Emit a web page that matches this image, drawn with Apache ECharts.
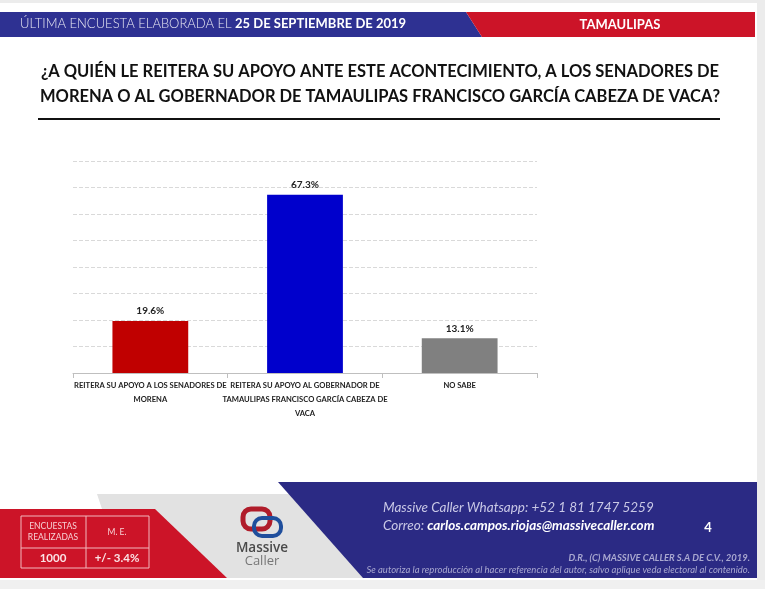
<!DOCTYPE html>
<html><head><meta charset="utf-8">
<script src="https://cdn.jsdelivr.net/npm/echarts@6/dist/echarts.min.js"></script>
<style>html,body{margin:0;padding:0;background:#fff}#c{width:765px;height:589px}</style>
</head><body><div id="c"></div>
<script>
const categories = [
  'REITERA SU APOYO A LOS SENADORES DE MORENA',
  'REITERA SU APOYO AL GOBERNADOR DE TAMAULIPAS FRANCISCO GARCÍA CABEZA DE VACA',
  'NO SABE'
];
const values = [19.6, 67.3, 13.1];
const barColors = ['#c00000', '#0000cc', '#808080'];
const headerLeft = 'ÚLTIMA ENCUESTA ELABORADA EL';
const headerDate = '25 DE SEPTIEMBRE DE 2019';
const headerState = 'TAMAULIPAS';
const titleLines = ['¿A QUIÉN LE REITERA SU APOYO ANTE ESTE ACONTECIMIENTO, A LOS SENADORES DE',
                    'MORENA O AL GOBERNADOR DE TAMAULIPAS FRANCISCO GARCÍA CABEZA DE VACA?'];
const surveys = '1000';
const margin = '+/- 3.4%';

function wrap(s, max) {
  const out = []; let line = '';
  s.split(' ').forEach(w => {
    if (line && (line + ' ' + w).length > max) { out.push(line); line = w; }
    else line = line ? line + ' ' + w : w;
  });
  if (line) out.push(line);
  return out.join('\n');
}

const F = 'Lato, "Open Sans", sans-serif';
const chart = echarts.init(document.getElementById('c'));
chart.setOption({
  animation: false,
  backgroundColor: '#ffffff',
  grid: {left: 73, right: 228, top: 161, bottom: 216, containLabel: false},
  xAxis: {
    type: 'category', data: categories,
    axisLine: {lineStyle: {color: '#bfbfbf'}},
    axisTick: {show: true, length: 5, lineStyle: {color: '#bfbfbf'}},
    axisLabel: {
      interval: 0, lineHeight: 14, formatter: v => wrap(v, 38),
      fontFamily: F, fontWeight: 'bold', fontSize: 7.6, color: '#222', margin: 6
    }
  },
  yAxis: {
    type: 'value', min: 0, max: 80, interval: 10,
    axisLabel: {show: false}, axisLine: {show: false}, axisTick: {show: false},
    splitLine: {lineStyle: {color: '#d9d9d9', type: 'dashed', width: 1}}
  },
  series: [{
    type: 'bar', barWidth: '49%',
    data: values.map((v, i) => ({value: v, itemStyle: {color: barColors[i]}})),
    label: {show: true, position: 'top', distance: 5, formatter: p => p.value.toFixed(1) + '%',
      fontFamily: F, fontWeight: 'bold', fontSize: 10, color: '#222'}
  }],
  graphic: [
    {type: 'rect', shape: {x: 757, y: 0, width: 8, height: 589}, style: {fill: '#ececec'}, z: -1},
    {type: 'rect', shape: {x: 0, y: 0, width: 765, height: 3}, style: {fill: '#ececec'}, z: -1},
    {type: 'rect', shape: {x: 0, y: 580, width: 765, height: 9}, style: {fill: '#f0f0f0'}, z: -1},
    {type: 'polygon', shape: {points: [[0,12],[466,12],[482,37],[0,37]]}, style: {fill: '#2e3192'}},
    {type: 'polygon', shape: {points: [[466,12],[755,12],[755,37],[482,37]]}, style: {fill: '#cc1428'}},
    {type: 'text', left: 20, top: 17, style: {
      text: '{a|' + headerLeft + '} {b|' + headerDate + '}',
      rich: {a: {fontFamily: F, fontSize: 13, fontWeight: 300, fill: '#e6e6f2'},
             b: {fontFamily: F, fontSize: 13, fontWeight: 'bold', fill: '#fff'}}}},
    {type: 'text', x: 620, y: 25, style: {text: headerState, fontFamily: F, fontSize: 13, fontWeight: 'bold',
      fill: '#fff', align: 'center', verticalAlign: 'middle'}},
    {type: 'text', x: 380, y: 72, style: {text: titleLines[0], fontFamily: F, fontSize: 16.5, fontWeight: 'bold',
      fill: '#111', align: 'center', verticalAlign: 'middle'}},
    {type: 'text', x: 380, y: 97, style: {text: titleLines[1], fontFamily: F, fontSize: 16.5, fontWeight: 'bold',
      fill: '#111', align: 'center', verticalAlign: 'middle'}},
    {type: 'line', shape: {x1: 38, y1: 119, x2: 720, y2: 119}, style: {stroke: '#111', lineWidth: 2}},
    {type: 'polygon', shape: {points: [[97,494],[370,494],[370,578],[125,578]]}, style: {fill: '#e2e2e2'}},
    {type: 'polygon', shape: {points: [[278,482],[757,482],[757,578],[363,578]]}, style: {fill: '#2b2a84'}},
    {type: 'polygon', shape: {points: [[0,509],[155,509],[227,578],[0,578]]}, style: {fill: '#cc1428'}},
    {type: 'rect', shape: {x: 21, y: 516, width: 128, height: 52}, style: {fill: 'none', stroke: '#f2b8bd', lineWidth: 1}},
    {type: 'line', shape: {x1: 86, y1: 516, x2: 86, y2: 568}, style: {stroke: '#f2b8bd', lineWidth: 1}},
    {type: 'line', shape: {x1: 21, y1: 548, x2: 149, y2: 548}, style: {stroke: '#f2b8bd', lineWidth: 1}},
    {type: 'text', x: 53, y: 532, style: {text: 'ENCUESTAS\nREALIZADAS', fontFamily: F, fontSize: 8.5, lineHeight: 11,
      fill: '#f7d0d4', align: 'center', verticalAlign: 'middle'}},
    {type: 'text', x: 117, y: 532, style: {text: 'M. E.', fontFamily: F, fontSize: 8.5, fill: '#f7d0d4', align: 'center', verticalAlign: 'middle'}},
    {type: 'text', x: 53, y: 558, style: {text: surveys, fontFamily: F, fontSize: 11.5, fontWeight: 'bold', fill: '#fbe3e5', align: 'center', verticalAlign: 'middle'}},
    {type: 'text', x: 117, y: 558, style: {text: margin, fontFamily: F, fontSize: 11.5, fontWeight: 'bold', fill: '#fbe3e5', align: 'center', verticalAlign: 'middle'}},
    {type: 'rect', shape: {x: 243, y: 509, width: 27, height: 20, r: 8}, style: {fill: 'none', stroke: '#b01c2a', lineWidth: 5}},
    {type: 'rect', shape: {x: 254, y: 518, width: 27, height: 18, r: 8}, style: {fill: 'none', stroke: '#1f4e9c', lineWidth: 4}},
    {type: 'text', x: 262, y: 548, style: {text: 'Massive', fontFamily: '"Open Sans", sans-serif', fontSize: 13.5, fontWeight: 600,
      fill: '#4a4a4a', align: 'center', verticalAlign: 'middle'}},
    {type: 'text', x: 262, y: 561, style: {text: 'Caller', fontFamily: '"Open Sans", sans-serif', fontSize: 13,
      fill: '#777', align: 'center', verticalAlign: 'middle'}},
    {type: 'text', x: 383, y: 508, style: {text: 'Massive Caller Whatsapp: +52 1 81 1747 5259', fontFamily: F, fontSize: 13.5,
      fontStyle: 'italic', fill: '#c9c8e6', verticalAlign: 'middle'}},
    {type: 'text', x: 383, y: 526, style: {
      text: '{a|Correo: }{b|carlos.campos.riojas@massivecaller.com}', verticalAlign: 'middle',
      rich: {a: {fontFamily: F, fontSize: 13.5, fontStyle: 'italic', fill: '#c9c8e6'},
             b: {fontFamily: F, fontSize: 13.5, fontStyle: 'italic', fontWeight: 'bold', fill: '#fff'}}}},
    {type: 'text', x: 708, y: 528, style: {text: '4', fontFamily: F, fontSize: 13, fontWeight: 'bold', fill: '#fff', align: 'center', verticalAlign: 'middle'}},
    {type: 'text', x: 750, y: 558, style: {text: 'D.R., (C) MASSIVE CALLER S.A DE C.V., 2019.', fontFamily: F, fontSize: 9.5,
      fontStyle: 'italic', fontWeight: 'bold', fill: '#a9a8d0', align: 'right', verticalAlign: 'middle'}},
    {type: 'text', x: 750, y: 570, style: {text: 'Se autoriza la reproducción al hacer referencia del autor, salvo aplique veda electoral al contenido.',
      fontFamily: F, fontSize: 9.5, fontStyle: 'italic', fill: '#a9a8d0', align: 'right', verticalAlign: 'middle'}}
  ]
});
</script></body></html>
